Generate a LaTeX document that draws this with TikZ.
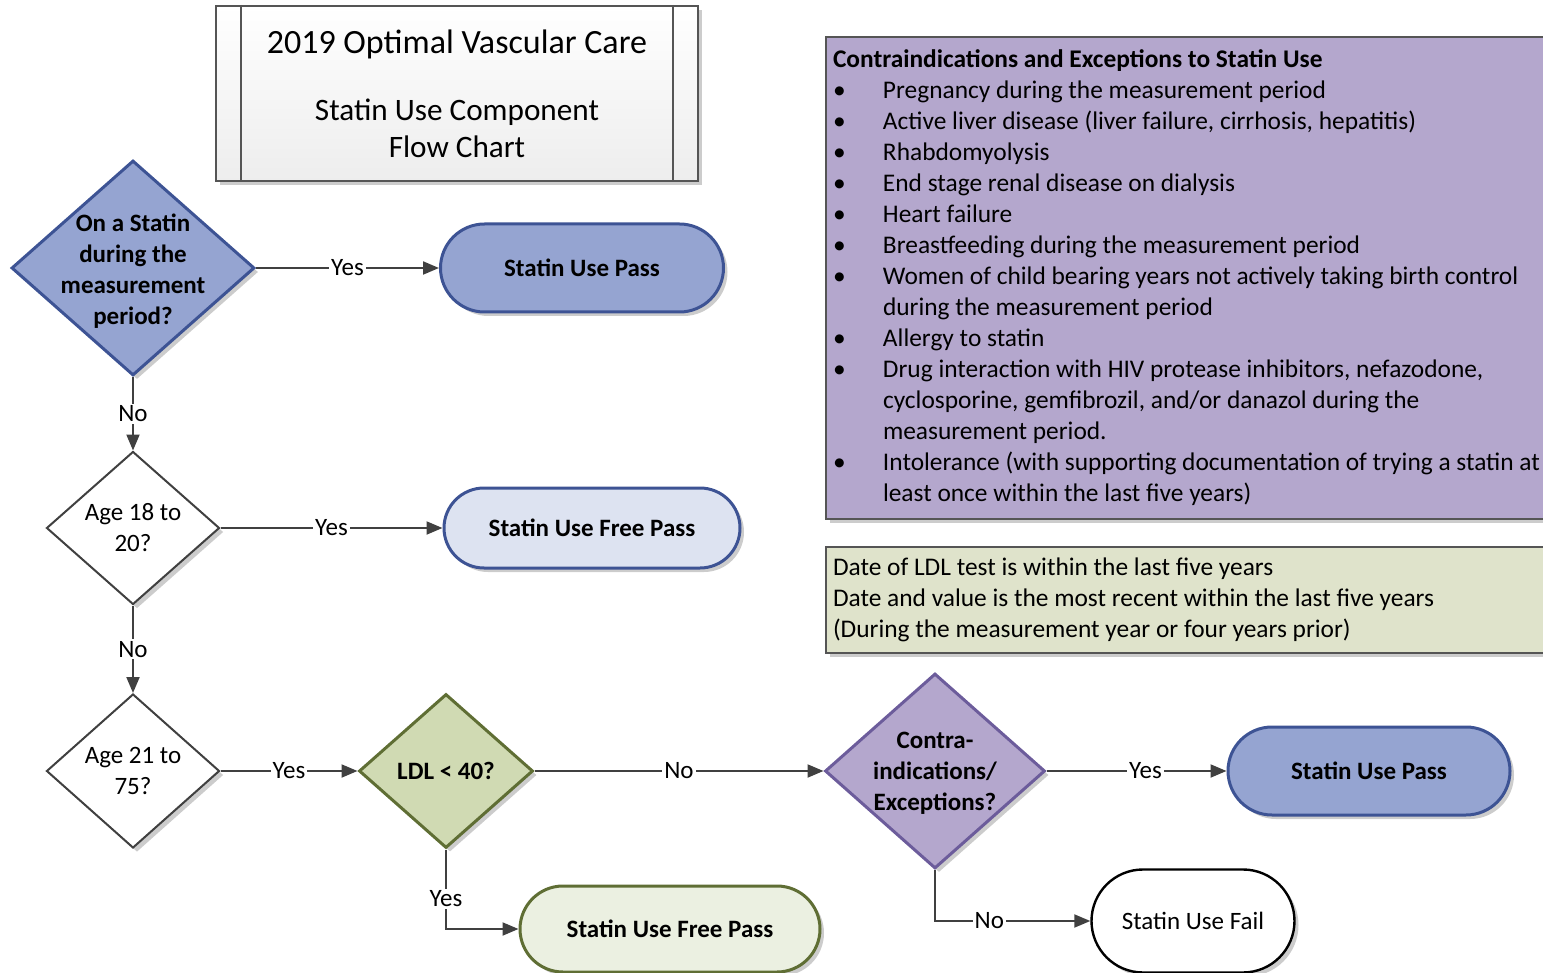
\documentclass[tikz,border=0pt]{standalone}
\usepackage{fontspec}
\setmainfont{Carlito}
\usetikzlibrary{shapes.geometric,shapes.misc,arrows.meta,shadows}

\definecolor{lineGray}{HTML}{404040}
\definecolor{boxGray}{HTML}{555555}
\definecolor{blueFill}{HTML}{95A4D1}
\definecolor{blueLine}{HTML}{3D5394}
\definecolor{paleBlue}{HTML}{DDE3F1}
\definecolor{oliveFill}{HTML}{D0DAB3}
\definecolor{oliveLine}{HTML}{5F6E34}
\definecolor{paleOlive}{HTML}{EBF0E1}
\definecolor{noteOlive}{HTML}{DFE3CB}
\definecolor{purpleFill}{HTML}{B4A7CD}
\definecolor{purpleLine}{HTML}{6C5C9B}

\newcommand{\bul}{\makebox[25pt][l]{\textbullet}}

\begin{document}
\begin{tikzpicture}[x=0.5pt,y=-0.5pt,>={Triangle[length=8pt,width=6.5pt]},
	every node/.style={font=\fontsize{12.5}{15.5}\selectfont},
	softshadow/.style={drop shadow={shadow xshift=2pt,shadow yshift=-2pt,opacity=0.2,fill=black}},
	decision/.style={diamond,draw=lineGray,line width=1pt,inner sep=0pt,softshadow},
	terminator/.style={rounded rectangle,line width=1.5pt,inner sep=0pt,font=\fontsize{12.5}{15.5}\selectfont\bfseries,softshadow},
	qtext/.style={align=center,inner sep=0pt},
	notebox/.style={rectangle,draw=boxGray,line width=1pt,anchor=north west,align=left,text width=420pt,inner xsep=3.5pt,softshadow,
		font=\fontsize{12.7}{15.5}\selectfont,execute at begin node={\spaceskip=0pt\xspaceskip=0pt\relax}},
	flow/.style={->,draw=lineGray,line width=1pt},
	answer/.style={fill=white,inner sep=1pt}]
	\useasboundingbox (0,0) rectangle (1543,973);

	% title
	\node[rectangle,draw=boxGray,line width=1pt,top color=white,bottom color=gray!14,minimum width=241pt,minimum height=87.5pt,softshadow,
		align=center,font=\fontsize{15.6}{18.5}\selectfont] (title) at (457,93.5)
		{{\fontsize{17}{18.5}\selectfont 2019 Optimal Vascular Care}\\[15pt]Statin Use Component\\Flow Chart};
	\draw[boxGray,line width=1pt] ([xshift=13pt]title.north west) -- ([xshift=13pt]title.south west);
	\draw[boxGray,line width=1pt] ([xshift=-13pt]title.north east) -- ([xshift=-13pt]title.south east);

	% notes
	\node[notebox,fill=purpleFill,inner ysep=6.5pt] (excbox) at (825,36) {%
		\textbf{Contraindications and Exceptions to Statin Use}\\
		\bul Pregnancy during the measurement period\\
		\bul Active liver disease (liver failure, cirrhosis, hepatitis)\\
		\bul Rhabdomyolysis\\
		\bul End stage renal disease on dialysis\\
		\bul Heart failure\\
		\bul Breastfeeding during the measurement period\\
		\bul Women of child bearing years not actively taking birth control\\
		\hspace*{25pt}during the measurement period\\
		\bul Allergy to statin\\
		\bul Drug interaction with HIV protease inhibitors, nefazodone,\\
		\hspace*{25pt}cyclosporine, gemfibrozil, and/or danazol during the\\
		\hspace*{25pt}measurement period.\\
		\bul Intolerance (with supporting documentation of trying a statin at\\
		\hspace*{25pt}least once within the last five years)};
	\node[notebox,fill=noteOlive,inner ysep=5.5pt] (ldlbox) at (825,546) {%
		Date of LDL test is within the last five years\\
		Date and value is the most recent within the last five years\\
		(During the measurement year or four years prior)};

	% decisions
	\node[decision,fill=blueFill,draw=blueLine,line width=1.5pt,minimum width=121.5pt,minimum height=107.5pt] (onstatin) at (133,268) {};
	\node[qtext,font=\fontsize{12.5}{15.4}\selectfont\bfseries] (onstatintext) at ([yshift=-1.5pt]onstatin) {On a Statin\\during the\\measurement\\period?};
	\node[decision,fill=white,minimum width=86.5pt,minimum height=76.5pt] (age18) at (133,528) {};
	\node[qtext] (age18text) at (age18) {Age 18 to\\20?};
	\node[decision,fill=white,minimum width=86.5pt,minimum height=77pt] (age21) at (133,771) {};
	\node[qtext] (age21text) at (age21) {Age 21 to\\75?};
	\node[decision,fill=oliveFill,draw=oliveLine,line width=1.5pt,minimum width=87pt,minimum height=77pt] (ldl) at (446,771) {};
	\node[qtext,font=\fontsize{12.5}{15.5}\selectfont\bfseries] (ldltext) at (ldl) {LDL < 40?};
	\node[decision,fill=purpleFill,draw=purpleLine,line width=1.5pt,minimum width=110pt,minimum height=97.5pt] (contra) at (935,771) {};
	\node[qtext,font=\fontsize{12.5}{15.5}\selectfont\bfseries] (contratext) at ([yshift=-1pt]contra) {Contra-\\indications/\\Exceptions?};

	% outcomes
	\node[terminator,fill=blueFill,draw=blueLine,minimum width=141.5pt,minimum height=44pt] (pass1) at (582,268) {Statin Use Pass};
	\node[terminator,fill=paleBlue,draw=blueLine,minimum width=148pt,minimum height=40pt] (free1) at (592,528) {Statin Use Free Pass};
	\node[terminator,fill=blueFill,draw=blueLine,minimum width=141pt,minimum height=44pt] (pass2) at (1369,771) {Statin Use Pass};
	\node[terminator,fill=paleOlive,draw=oliveLine,minimum width=150pt,minimum height=43pt] (free2) at (670,929) {Statin Use Free Pass};
	\node[terminator,fill=white,draw=black,line width=1.2pt,font=\fontsize{12.5}{15.5}\selectfont,minimum width=101.5pt,minimum height=51.5pt] (fail) at (1193,921) {Statin Use Fail};

	% connectors
	\draw[flow] (onstatin.east) -- node[answer]{Yes} (pass1.west);
	\draw[flow] (onstatin.south) -- node[answer]{No} (age18.north);
	\draw[flow] (age18.east) -- node[answer]{Yes} (free1.west);
	\draw[flow] (age18.south) -- node[answer]{No} (age21.north);
	\draw[flow] (age21.east) -- node[answer]{Yes} (ldl.west);
	\draw[flow] (ldl.east) -- node[answer]{No} (contra.west);
	\draw[flow] (contra.east) -- node[answer,pos=0.55]{Yes} (pass2.west);
	\draw[flow] (ldl.south) |- node[answer,pos=0.31]{Yes} (free2.west);
	\draw[flow] (contra.south) |- node[answer,pos=0.675]{No} (fail.west);
\end{tikzpicture}
\end{document}
